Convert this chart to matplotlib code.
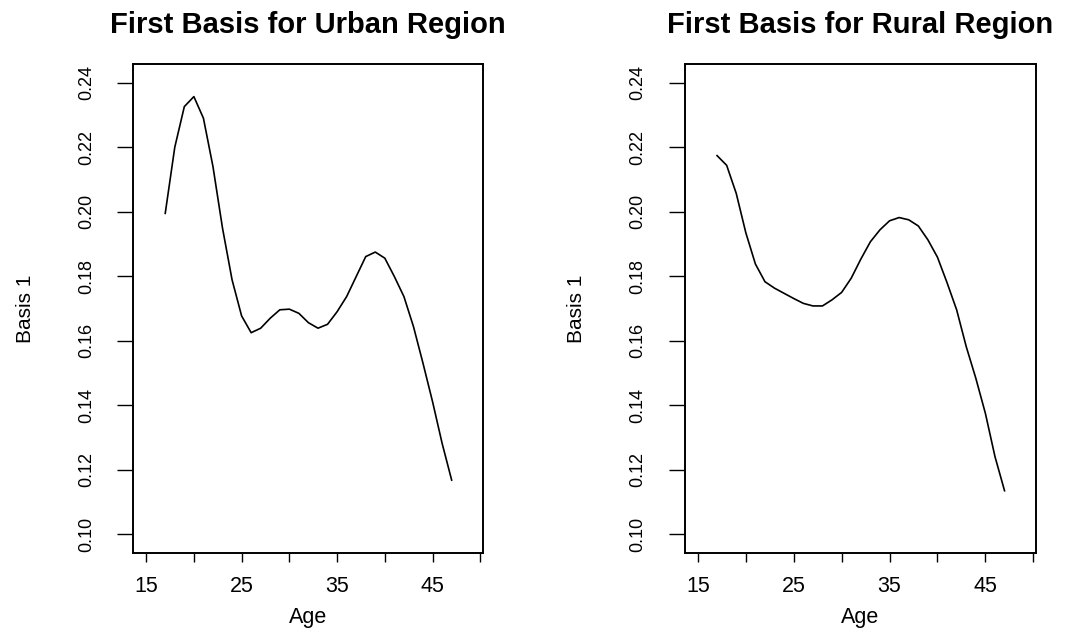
import matplotlib
matplotlib.use('Agg')
import matplotlib.pyplot as plt
import numpy as np

plt.rcParams['font.family'] = ['Liberation Sans', 'DejaVu Sans']

# ages 17..47, one value per year
age = list(range(17, 48))

urban = [0.1995, 0.2200, 0.2326, 0.2357, 0.2290, 0.2140, 0.1949, 0.1789,
         0.1677, 0.1625, 0.1639, 0.1670, 0.1696, 0.1698, 0.1685, 0.1656,
         0.1639, 0.1651, 0.1690, 0.1737, 0.1799, 0.1861, 0.1875, 0.1856,
         0.1799, 0.1737, 0.1644, 0.1530, 0.1411, 0.1282, 0.1168]

rural = [0.2174, 0.2144, 0.2057, 0.1935, 0.1838, 0.1783, 0.1763, 0.1747,
         0.1731, 0.1716, 0.1708, 0.1708, 0.1727, 0.1750, 0.1794, 0.1853,
         0.1907, 0.1944, 0.1972, 0.1982, 0.1975, 0.1956, 0.1913, 0.1859,
         0.1780, 0.1696, 0.1582, 0.1484, 0.1375, 0.1241, 0.1135]

titles = ['First Basis for Urban Region', 'First Basis for Rural Region']
x_ticks = [15, 20, 25, 30, 35, 40, 45, 50]
x_ticklabels = ['15', '', '25', '', '35', '', '45', '']
y_ticks = [0.10, 0.12, 0.14, 0.16, 0.18, 0.20, 0.22, 0.24]
y_ticklabels = ['0.10', '0.12', '0.14', '0.16', '0.18', '0.20', '0.22', '0.24']

fig = plt.figure(figsize=(10.74, 6.32), dpi=100)
ax_left = fig.add_axes([0.1238, 0.125, 0.3259, 0.7737])
ax_right = fig.add_axes([0.6375, 0.125, 0.3271, 0.7737])

for ax, series, title in [(ax_left, urban, titles[0]), (ax_right, rural, titles[1])]:
    ax.plot(age, series, color='black', lw=1.2)
    ax.set_xlim(13.62, 50.28)
    ax.set_ylim(0.0942, 0.2458)

    ax.set_xticks(x_ticks)
    ax.set_xticklabels(x_ticklabels, fontsize=15.5)
    ax.set_yticks(y_ticks)
    ax.set_yticklabels(y_ticklabels, fontsize=13, rotation=90, va='center')
    ax.tick_params(axis='x', direction='out', length=6.5, width=1.0, pad=10)
    ax.tick_params(axis='y', direction='out', length=11.5, width=1.0, pad=16)

    for sp in ax.spines.values():
        sp.set_linewidth(1.4)

    ax.set_xlabel('Age', fontsize=15.5)
    ax.xaxis.set_label_coords(0.5, -0.11)
    ax.set_ylabel('Basis 1', fontsize=15)
    ax.yaxis.set_label_coords(-0.28, 0.5)

    ax.set_title(title, fontsize=21, fontweight='bold', y=1.063, pad=0)

plt.savefig('out.png', dpi=100, facecolor='white')
plt.close()
